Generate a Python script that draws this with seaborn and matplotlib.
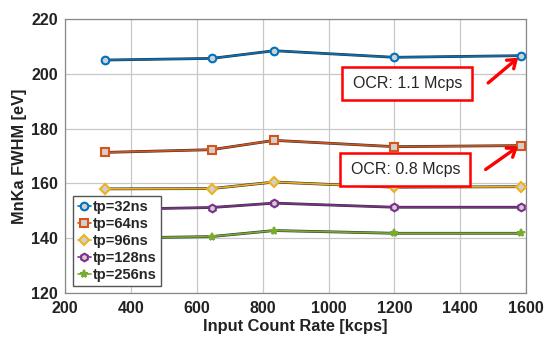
import pandas as pd
import numpy as np
import seaborn as sb
import matplotlib.pyplot as plt
from matplotlib import patches

# input count rate [kcps]
icr = [320, 645, 835, 1200, 1585]

# MnKa FWHM [eV] per peaking time
fwhm_32 = [205.0, 205.6, 208.4, 206.0, 206.6]
fwhm_64 = [171.3, 172.3, 175.7, 173.4, 173.8]
fwhm_96 = [158.0, 158.1, 160.5, 158.6, 158.8]
fwhm_128 = [150.5, 151.2, 152.8, 151.3, 151.3]
fwhm_256 = [140.0, 140.6, 142.8, 141.8, 141.8]

labels = ['tp=32ns', 'tp=64ns', 'tp=96ns', 'tp=128ns', 'tp=256ns']
series = [fwhm_32, fwhm_64, fwhm_96, fwhm_128, fwhm_256]
colors = ['#0072BD', '#D95319', '#EDB120', '#7E2F8E', '#77AC30']
markers = ['o', 's', 'D', 'h', '*']

ocr_text = ['OCR: 1.1 Mcps', 'OCR: 0.8 Mcps']

sb.set_style('whitegrid')
plt.rcParams['font.family'] = ['Liberation Sans', 'DejaVu Sans']

fig = plt.figure(figsize=(5.51, 3.38), dpi=100)
ax = fig.add_axes([0.118, 0.133, 0.837, 0.811])

rows = []
for lab, vals in zip(labels, series):
    for x, y in zip(icr, vals):
        rows.append({'ICR': x, 'FWHM': y, 'tp': lab})
df = pd.DataFrame(rows)

# dark under-line gives the matlab-ish dark edge look
for lab in labels:
    sub = df[df['tp'] == lab]
    ax.plot(sub['ICR'], sub['FWHM'], color='#333333', lw=2.0, zorder=2)

sb.lineplot(data=df, x='ICR', y='FWHM', hue='tp', style='tp',
            palette=colors, markers=markers, dashes=False, lw=1.2,
            markersize=5.5, markeredgewidth=1.5, ax=ax, zorder=3, legend=False)

lines = ax.get_lines()[len(labels):]
for line, c in zip(lines, colors):
    line.set_markeredgecolor(c)
    line.set_markerfacecolor('#d0d0d0')

ax.set_xlim(200, 1600)
ax.set_ylim(120, 220)
ax.set_xticks(np.arange(200, 1601, 200))
ax.set_yticks(np.arange(120, 221, 20))
ax.grid(True, color='#c8c8c8', lw=0.9)
for s in ax.spines.values():
    s.set_color('#888888')
    s.set_linewidth(0.9)
ax.tick_params(axis='x', pad=6)
ax.tick_params(axis='y', pad=5)
ax.tick_params(axis='both', labelsize=11.5, length=0, colors='#222222')
for t in ax.get_xticklabels() + ax.get_yticklabels():
    t.set_fontweight('bold')
ax.set_xlabel('Input Count Rate [kcps]', fontsize=11.8, fontweight='bold',
              color='#222222', labelpad=2)
ax.set_ylabel('MnKa FWHM [eV]', fontsize=11.8, fontweight='bold',
              color='#222222', labelpad=3)

leg = ax.legend(handles=lines, labels=labels, loc='lower left',
                bbox_to_anchor=(0.012, 0.015), frameon=True,
                fancybox=False, handlelength=0.9, handletextpad=0.1,
                borderpad=0.3, labelspacing=0.2, borderaxespad=0.2,
                prop={'weight': 'bold', 'size': 10.5})
leg.get_frame().set_edgecolor('#555555')
leg.get_frame().set_linewidth(1.0)
leg.get_frame().set_alpha(1)

# red OCR boxes
ax.add_patch(patches.Rectangle((1041, 190.4), 395, 12.1, fc='white', ec='red',
                               lw=1.8, zorder=5))
ax.add_patch(patches.Rectangle((1035, 159.1), 395, 12.0, fc='white', ec='red',
                               lw=1.8, zorder=5))
ax.text(1075, 196.3, ocr_text[0], fontsize=11.5, va='center', ha='left', zorder=6)
ax.text(1068, 165.0, ocr_text[1], fontsize=11.5, va='center', ha='left', zorder=6)

arrow = dict(arrowstyle='->,head_length=0.55,head_width=0.4', color='red', lw=2.4)
ax.annotate('', xy=(1582, 206.5), xytext=(1478, 196.0), arrowprops=arrow, zorder=6)
ax.annotate('', xy=(1582, 174.0), xytext=(1470, 164.5), arrowprops=arrow, zorder=6)

plt.savefig('out.png', dpi=100)
